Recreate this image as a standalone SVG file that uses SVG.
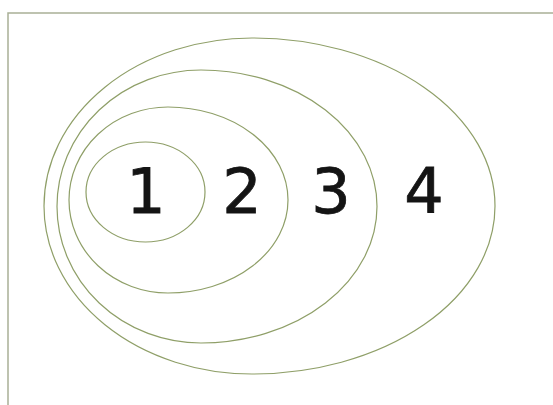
<svg xmlns="http://www.w3.org/2000/svg" width="553" height="405" viewBox="0 0 553 405">
<style>
.ring{fill:none;stroke:#8f9f68;stroke-width:1.2}
.frame{fill:none;stroke:#a9b096;stroke-width:1.5}
.num{font-family:"DejaVu Sans","Liberation Sans",sans-serif;font-size:62px;fill:#141414;stroke:#141414;stroke-width:0.8;text-anchor:middle}
</style>
<rect width="553" height="405" fill="#fff"/>
<path class="frame" d="M8,405 L8,13 L553,13"/>
<g id="set4"><path class="ring" d="M252,38 A208,168 0 0 0 252,374 A243,168 0 0 0 252,38 Z"/><text class="num" x="424" y="213">4</text></g>
<g id="set3"><path class="ring" d="M201,70 A144,136.5 0 0 0 201,343 A176,136.5 0 0 0 201,70 Z"/><text class="num" x="331" y="213">3</text></g>
<g id="set2"><path class="ring" d="M168,107 A99,93 0 0 0 168,293 A120,93 0 0 0 168,107 Z"/><text class="num" x="242" y="213">2</text></g>
<g id="set1"><ellipse class="ring" cx="145.5" cy="192" rx="59.5" ry="50"/><text class="num" x="146" y="213">1</text></g>
<g id="connectors"></g>
</svg>
